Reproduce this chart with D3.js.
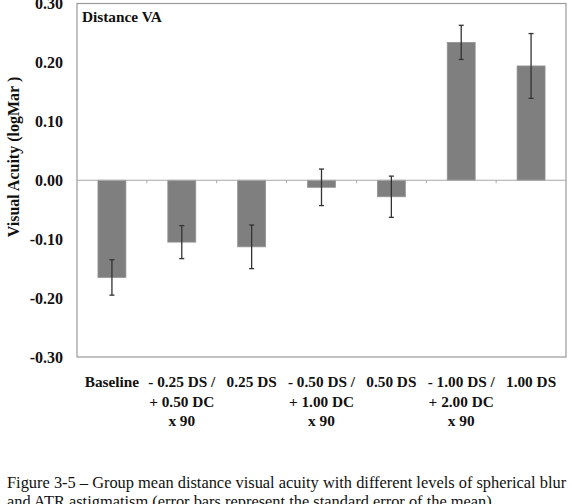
<!DOCTYPE html>
<html>
<head>
<meta charset="utf-8">
<script src="https://cdn.jsdelivr.net/npm/d3@7"></script>
<style>
  body { margin: 0; background: #fff; }
  svg { display: block; }
</style>
</head>
<body>
<svg id="drawing_region"></svg>
<script>
// categories (each label split into its printed lines)
const categories = ['Baseline', '-0.25DS/+0.50DCx90', '0.25DS', '-0.50DS/+1.00DCx90',
                    '0.50DS', '-1.00DS/+2.00DCx90', '1.00DS'];
const categoryLines = [
    ['Baseline'],
    ['- 0.25 DS /', '+ 0.50 DC', 'x 90'],
    ['0.25 DS'],
    ['- 0.50 DS /', '+ 1.00 DC', 'x 90'],
    ['0.50 DS'],
    ['- 1.00 DS /', '+ 2.00 DC', 'x 90'],
    ['1.00 DS']
];
// group mean logMAR and standard error
const meanVA = [-0.165, -0.105, -0.113, -0.012, -0.028, 0.234, 0.194];
const seVA   = [0.030, 0.028, 0.037, 0.031, 0.035, 0.029, 0.055];
const yTicks = [-0.30, -0.20, -0.10, 0.00, 0.10, 0.20, 0.30];

const config = {
    width: 572,
    height: 504,
    margin: {top: 3.5, left: 77, right: 6, bottom: 147}
};

const svg = d3.select('#drawing_region')
    .attr('width', config.width)
    .attr('height', config.height);

const innerW = config.width - config.margin.left - config.margin.right;
const innerH = config.height - config.margin.top - config.margin.bottom;

const chart = svg.append('g')
    .attr('transform', `translate(${config.margin.left}, ${config.margin.top})`);

const xscale = d3.scaleBand()
    .domain(categories)
    .range([0, innerW])
    .paddingInner(0.6)
    .paddingOuter(0.3);

const yscale = d3.scaleLinear()
    .domain([-0.3, 0.3])
    .range([innerH, 0]);

const serifBold = "bold 15.3px 'Liberation Serif', 'Times New Roman', serif";

// frame
chart.append('rect')
    .attr('x', 0).attr('y', 0)
    .attr('width', innerW).attr('height', innerH)
    .attr('fill', 'none')
    .attr('stroke', '#9a9a9a')
    .attr('stroke-width', 1.2);

// y axis labels (plain hyphen for negatives, as printed)
const yaxis = d3.axisLeft(yscale)
    .tickValues(yTicks)
    .tickFormat(d => d3.format('.2f')(d).replace('\u2212', '-'))
    .tickSize(0)
    .tickPadding(14);

chart.append('g')
    .call(yaxis)
    .call(g => g.select('.domain').remove())
    .selectAll('text')
    .style('font', "bold 16px 'Liberation Serif', 'Times New Roman', serif")
    .attr('fill', '#111');

// bars
chart.selectAll('.bar')
    .data(meanVA)
    .join('rect')
    .attr('class', 'bar')
    .attr('x', (d, i) => xscale(categories[i]))
    .attr('width', xscale.bandwidth())
    .attr('y', d => yscale(Math.max(0, d)))
    .attr('height', d => Math.abs(yscale(d) - yscale(0)))
    .attr('fill', '#7f7f7f')
    .attr('stroke', '#939393')
    .attr('stroke-width', 0.8);

// zero line and category ticks
chart.append('line')
    .attr('x1', 0).attr('x2', innerW)
    .attr('y1', yscale(0)).attr('y2', yscale(0))
    .attr('stroke', '#a8a8a8')
    .attr('stroke-width', 1.2);

const step = xscale.step();
chart.selectAll('.xtick')
    .data(d3.range(1, categories.length))
    .join('line')
    .attr('class', 'xtick')
    .attr('x1', i => xscale(categories[i]) - (step - xscale.bandwidth()) / 2)
    .attr('x2', i => xscale(categories[i]) - (step - xscale.bandwidth()) / 2)
    .attr('y1', yscale(0))
    .attr('y2', yscale(0) + 3)
    .attr('stroke', '#a8a8a8');

// error bars
const err = chart.selectAll('.err')
    .data(meanVA)
    .join('g')
    .attr('class', 'err')
    .attr('transform', (d, i) => `translate(${xscale(categories[i]) + xscale.bandwidth() / 2}, 0)`);

err.append('line')
    .attr('y1', (d, i) => yscale(d + seVA[i]))
    .attr('y2', (d, i) => yscale(d - seVA[i]))
    .attr('stroke', '#333')
    .attr('stroke-width', 1.3);

[1, -1].forEach(s => {
    err.append('line')
        .attr('x1', -2.5).attr('x2', 2.5)
        .attr('y1', (d, i) => yscale(d + s * seVA[i]))
        .attr('y2', (d, i) => yscale(d + s * seVA[i]))
        .attr('stroke', '#333')
        .attr('stroke-width', 1.3);
});

// category labels
const xl = chart.selectAll('.xlabel')
    .data(categoryLines)
    .join('text')
    .attr('class', 'xlabel')
    .attr('text-anchor', 'middle')
    .style('font', serifBold)
    .attr('fill', '#111')
    .attr('transform', (d, i) => `translate(${xscale(categories[i]) + xscale.bandwidth() / 2}, ${innerH + 30})`);

xl.selectAll('tspan')
    .data(d => d)
    .join('tspan')
    .attr('x', 0)
    .attr('dy', (d, j) => j === 0 ? 0 : 19.5)
    .text(d => d);

// panel title
chart.append('text')
    .attr('x', 5)
    .attr('y', 18)
    .style('font', serifBold)
    .attr('fill', '#111')
    .text('Distance VA');

// y axis title
svg.append('text')
    .attr('transform', 'translate(19, 157) rotate(-90)')
    .attr('text-anchor', 'middle')
    .style('font', "bold 16px 'Liberation Serif', 'Times New Roman', serif")
    .attr('fill', '#111')
    .text('Visual Acuity (logMar )');

// caption
const caption = svg.append('text')
    .style('font', "16.4px 'Liberation Serif', 'Times New Roman', serif")
    .attr('fill', '#111');
caption.append('tspan').attr('x', 7).attr('y', 488)
    .text('Figure 3-5 \u2013 Group mean distance visual acuity with different levels of spherical blur');
caption.append('tspan').attr('x', 7).attr('y', 507)
    .text('and ATR astigmatism (error bars represent the standard error of the mean).');
</script>
</body>
</html>
